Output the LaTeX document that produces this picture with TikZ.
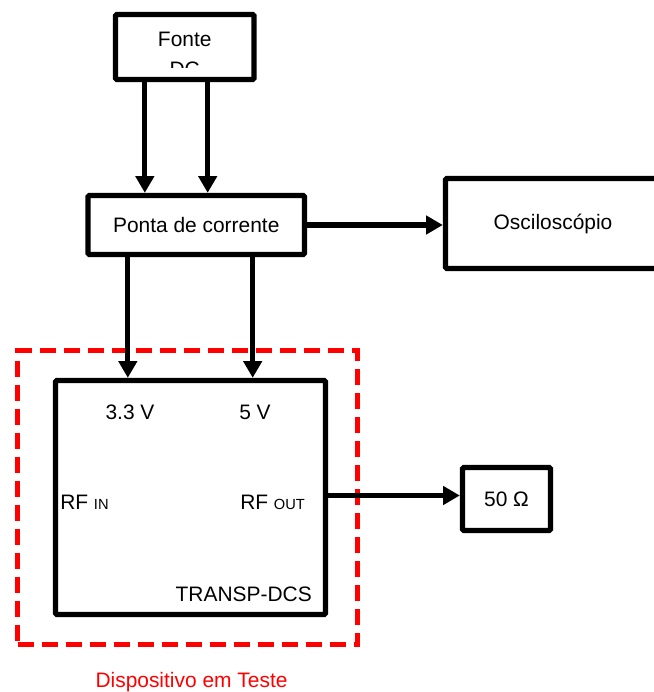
\documentclass[tikz,border=0pt]{standalone}
\usepackage{fontspec}
\setmainfont{Liberation Sans}
\usetikzlibrary{arrows.meta,positioning,calc}
\definecolor{dutred}{RGB}{255, 0, 0}

\begin{document}
\begin{tikzpicture}[x=0.75pt, y=-0.75pt, font=\fontsize{15.7}{22.5}\selectfont]
    \tikzstyle{blk} = [draw=black, line width=4pt, rounded corners=1pt, inner sep=0pt, align=center]
    \tikzstyle{darrow} = [line width=4pt, -{Triangle[length=12.5pt, width=13.5pt]}, black]
    \tikzstyle{lbl} = [inner sep=0pt]

    \useasboundingbox (0, 0) rectangle (653, 692);

    % Device under test
    \node[draw=dutred, line width=3.75pt, dash pattern=on 12pt off 6pt, minimum width=255pt, minimum height=220.5pt, inner sep=0pt] (dut) at (187.5, 497.5) {};
    \node[lbl, text=dutred, anchor=base] (dutlbl) at (191.5, 687) {Dispositivo em Teste};

    \node[blk, minimum width=103.9pt, minimum height=48.75pt] (fonte) at (184.75, 47) {};
    \begin{scope}
        \clip (118, 17) rectangle (251, 68);
        \node[lbl, anchor=north, align=center] (fontetxt) at (184.75, 32) {Fonte\\DC};
    \end{scope}
    \node[blk, minimum width=162.4pt, minimum height=44.25pt] (ponta) at (196.25, 225) {Ponta de corrente};
    \node[blk, minimum width=161.25pt, minimum height=67.5pt] (osc) at (553, 223.5) {Osciloscópio};
    \node[blk, minimum width=202.5pt, minimum height=175.5pt] (transp) at (190.5, 497.5) {};
    \node[blk, minimum width=66pt, minimum height=47.25pt] (load) at (506.5, 499) {50 Ω};

    \node[lbl, anchor=base] (v33) at (130, 419) {3.3 V};
    \node[lbl, anchor=base] (v5) at (255, 419) {5 V};
    \node[lbl, anchor=base west] (rfin) at (60, 509) {RF {\fontsize{11}{13}\selectfont IN}};
    \node[lbl, anchor=base west] (rfout) at (240, 509) {RF {\fontsize{11}{13}\selectfont OUT}};
    \node[lbl, anchor=base east] (dcs) at (312, 601) {TRANSP-DCS};

    % Feed points
    \coordinate (f1) at ($(fonte.south west)+(32, 0)$);
    \coordinate (f2) at ($(fonte.south east)+(-49, 0)$);
    \coordinate (p1) at ($(ponta.south west)+(42.5, 0)$);
    \coordinate (p2) at ($(ponta.south east)+(-54.5, 0)$);
    \coordinate (rfo) at ([yshift=1.5pt]transp.east);

    \draw[darrow] (f1) -- (f1 |- ponta.north);
    \draw[darrow] (f2) -- (f2 |- ponta.north);
    \draw[darrow] (ponta.east) -- (ponta.east -| osc.west);
    \draw[darrow] (p1) -- (p1 |- transp.north);
    \draw[darrow] (p2) -- (p2 |- transp.north);
    \draw[darrow] (rfo) -- (rfo -| load.west);
\end{tikzpicture}
\end{document}
